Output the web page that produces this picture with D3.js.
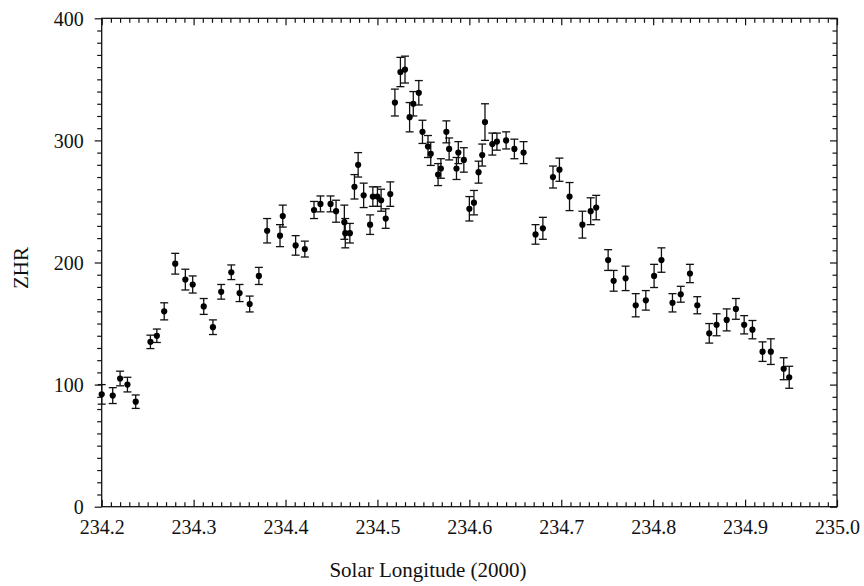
<!DOCTYPE html>
<html>
<head>
<meta charset="utf-8">
<script src="https://cdn.jsdelivr.net/npm/d3@7"></script>
<style>
  body { margin: 0; background: #fff; }
  svg { display: block; }
  .axis path { display: none; }
  .axis line { stroke: #111; stroke-width: 1.2; }
</style>
</head>
<body>
<div id="chart"></div>
<script>
// solar longitude (2000) of each interval
const solarLon = [
  234.200, 234.212, 234.220, 234.228, 234.237, 234.253, 234.260, 234.268, 234.280, 234.291,
  234.299, 234.311, 234.321, 234.330, 234.341, 234.350, 234.361, 234.371, 234.380, 234.394,
  234.397, 234.411, 234.421, 234.431, 234.438, 234.449, 234.455, 234.464, 234.465, 234.470,
  234.475, 234.479, 234.485, 234.492, 234.495, 234.500, 234.504, 234.509, 234.514, 234.519,
  234.525, 234.530, 234.535, 234.539, 234.545, 234.549, 234.555, 234.558, 234.566, 234.569,
  234.575, 234.578, 234.586, 234.588, 234.594, 234.600, 234.605, 234.610, 234.614, 234.617,
  234.625, 234.630, 234.640, 234.649, 234.659, 234.672, 234.680, 234.691, 234.698, 234.709,
  234.723, 234.732, 234.738, 234.751, 234.757, 234.770, 234.781, 234.792, 234.801, 234.809,
  234.821, 234.830, 234.840, 234.848, 234.861, 234.869, 234.880, 234.890, 234.899, 234.908,
  234.919, 234.928, 234.942, 234.948
];
// zenithal hourly rate
const zhr = [
  92, 91, 105, 100, 86, 135, 140, 160, 199, 186,
  182, 164, 147, 176, 192, 175, 166, 189, 226, 222,
  238, 214, 211, 243, 248, 248, 242, 233, 224, 224,
  262, 280, 255, 231, 254, 254, 251, 236, 256, 331,
  356, 358, 319, 330, 339, 307, 295, 289, 272, 277,
  307, 293, 277, 290, 284, 244, 249, 274, 288, 315,
  297, 299, 300, 293, 290, 223, 228, 270, 276, 254,
  231, 242, 245, 202, 185, 187, 165, 169, 189, 202,
  167, 174, 191, 165, 142, 149, 153, 162, 149, 145,
  127, 127, 113, 106
];
// +/- error
const zhrErr = [
  8, 6.5, 6, 6, 5.5, 5.5, 5.5, 7, 8.5, 8.5,
  7, 6.5, 6, 6, 6, 7, 6.5, 7, 10, 9,
  9, 8, 6.5, 7, 6.5, 6.5, 9, 14, 12, 8,
  10, 10, 10, 8, 8, 8, 9, 8, 10, 11,
  12, 11, 12, 10, 10, 9.5, 9, 9.5, 9, 8,
  9, 9, 9, 9, 10, 10, 10, 9, 9, 15,
  9, 7, 7, 8, 9, 8, 9, 9, 9.5, 11.5,
  11, 11, 10, 8.5, 8.5, 10, 9.5, 8, 9.5, 10,
  7.5, 6.5, 7.5, 7, 8, 9, 9, 8.5, 7.5, 7.5,
  8, 10.5, 9, 9
];
const xTicks = [234.2, 234.3, 234.4, 234.5, 234.6, 234.7, 234.8, 234.9, 235.0];
const yTicks = [0, 100, 200, 300, 400];

const width = 864, height = 586;
const margin = { top: 18.3, right: 27, bottom: 79.3, left: 101.7 };
const serif = "'Liberation Serif', 'Times New Roman', 'DejaVu Serif', serif";

const points = solarLon.map((lon, i) => ({ lon, zhr: zhr[i], err: zhrErr[i] }));

const svg = d3.select("#chart").append("svg")
    .attr("width", width)
    .attr("height", height);

const x = d3.scaleLinear().domain([234.2, 235.0]).range([margin.left, width - margin.right]);
const y = d3.scaleLinear().domain([0, 400]).range([height - margin.bottom, margin.top]);

const minorX = d3.range(0, 81).map(i => 234.2 + i * 0.01).filter((d, i) => i % 10 !== 0);
const minorY = d3.range(0, 41).map(i => i * 10).filter((d, i) => i % 10 !== 0);

const fmtX = d3.format(".1f");
const styleText = g => g.selectAll("text")
    .attr("font-family", serif)
    .attr("font-size", 20)
    .attr("fill", "#111");

// bottom axis - ticks point inward
svg.append("g").attr("class", "axis")
    .attr("transform", `translate(0,${y(0)})`)
    .call(d3.axisBottom(x).tickValues(xTicks).tickFormat(fmtX).tickSize(-7).tickPadding(0))
    .call(styleText)
    .call(g => g.selectAll("text").attr("dy", null).attr("y", 27.5));
svg.append("g").attr("class", "axis")
    .attr("transform", `translate(0,${y(0)})`)
    .call(d3.axisBottom(x).tickValues(minorX).tickFormat("").tickSize(-4.5));

// top axis
svg.append("g").attr("class", "axis")
    .attr("transform", `translate(0,${y(400)})`)
    .call(d3.axisTop(x).tickValues(xTicks).tickFormat("").tickSize(-7));
svg.append("g").attr("class", "axis")
    .attr("transform", `translate(0,${y(400)})`)
    .call(d3.axisTop(x).tickValues(minorX).tickFormat("").tickSize(-4.5));

// left axis - ticks point outward
svg.append("g").attr("class", "axis")
    .attr("transform", `translate(${x(234.2)},0)`)
    .call(d3.axisLeft(y).tickValues(yTicks).tickSize(7).tickPadding(11))
    .call(styleText)
    .call(g => g.selectAll("text").attr("dy", "0.34em"));
svg.append("g").attr("class", "axis")
    .attr("transform", `translate(${x(234.2)},0)`)
    .call(d3.axisLeft(y).tickValues(minorY).tickFormat("").tickSize(4.5));

// right axis
svg.append("g").attr("class", "axis")
    .attr("transform", `translate(${x(235.0)},0)`)
    .call(d3.axisRight(y).tickValues(yTicks).tickFormat("").tickSize(-7));
svg.append("g").attr("class", "axis")
    .attr("transform", `translate(${x(235.0)},0)`)
    .call(d3.axisRight(y).tickValues(minorY).tickFormat("").tickSize(-4.5));

// frame
svg.append("rect")
    .attr("x", x(234.2)).attr("y", y(400))
    .attr("width", x(235.0) - x(234.2))
    .attr("height", y(0) - y(400))
    .attr("fill", "none")
    .attr("stroke", "#111")
    .attr("stroke-width", 1.3);

// error bars
const capW = 4;
const bars = svg.append("g").attr("stroke", "#111").attr("stroke-width", 1.3);
bars.selectAll("line.v").data(points).join("line").attr("class", "v")
    .attr("x1", d => x(d.lon)).attr("x2", d => x(d.lon))
    .attr("y1", d => y(d.zhr - d.err)).attr("y2", d => y(d.zhr + d.err));
bars.selectAll("line.top").data(points).join("line").attr("class", "top")
    .attr("x1", d => x(d.lon) - capW).attr("x2", d => x(d.lon) + capW)
    .attr("y1", d => y(d.zhr + d.err)).attr("y2", d => y(d.zhr + d.err));
bars.selectAll("line.bot").data(points).join("line").attr("class", "bot")
    .attr("x1", d => x(d.lon) - capW).attr("x2", d => x(d.lon) + capW)
    .attr("y1", d => y(d.zhr - d.err)).attr("y2", d => y(d.zhr - d.err));

// points
svg.append("g").selectAll("circle").data(points).join("circle")
    .attr("cx", d => x(d.lon))
    .attr("cy", d => y(d.zhr))
    .attr("r", 3.1)
    .attr("fill", "#000");

// axis titles
svg.append("text")
    .attr("x", 428)
    .attr("y", 577)
    .attr("text-anchor", "middle")
    .attr("font-family", serif)
    .attr("font-size", 21)
    .attr("fill", "#111")
    .text("Solar Longitude (2000)");

svg.append("text")
    .attr("transform", `translate(28,268) rotate(-90)`)
    .attr("text-anchor", "middle")
    .attr("font-family", serif)
    .attr("font-size", 21)
    .attr("fill", "#111")
    .text("ZHR");
</script>
</body>
</html>
